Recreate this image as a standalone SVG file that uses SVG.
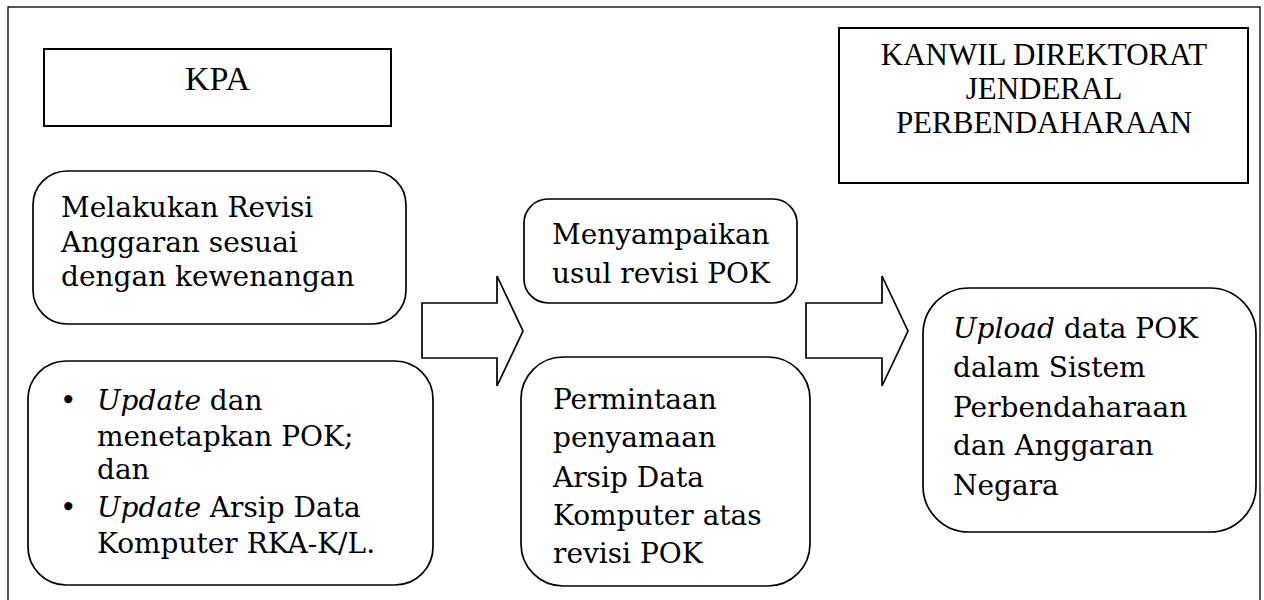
<svg xmlns="http://www.w3.org/2000/svg" width="1264" height="600" viewBox="0 0 1264 600">
  <style>
    .frame { fill: #fff; stroke: #000; stroke-width: 1.3; }
    .box { fill: #fff; stroke: #000; stroke-width: 2; }
    .rbox { fill: #fff; stroke: #000; stroke-width: 1.7; }
    .arrow { fill: #fff; stroke: #000; stroke-width: 1.7; stroke-linejoin: miter; }
    .title { font-family: "Liberation Serif", "Times New Roman", serif; font-size: 31px; fill: #000; text-anchor: middle; }
    .body { font-family: "DejaVu Serif", "Liberation Serif", serif; font-size: 28px; fill: #000; }
    .it { font-style: italic; }
  </style>

  <!-- page frame -->
  <rect class="frame" x="8" y="7" width="1252" height="610"/>

  <!-- connectors: block arrows between columns -->
  <g id="connectors">
    <polygon class="arrow" points="422,303 497,303 497,276 523,331 497,386 497,358 422,358"/>
    <polygon class="arrow" points="806,303 882,303 882,276 908,331 882,386 882,358 806,358"/>
  </g>

  <g id="kpa">
    <rect class="box" x="44" y="49" width="347" height="77"/>
    <text class="title" x="217.5" y="90" style="font-size:34px">KPA</text>
  </g>

  <g id="kanwil">
    <rect class="box" x="839" y="28" width="409" height="155"/>
    <text class="title" x="1044" y="65">KANWIL DIREKTORAT</text>
    <text class="title" x="1044" y="99">JENDERAL</text>
    <text class="title" x="1044" y="133">PERBENDAHARAAN</text>
  </g>

  <g id="revisi-anggaran">
    <rect class="rbox" x="33" y="171" width="373" height="153" rx="34"/>
    <text class="body" x="61" y="217">Melakukan Revisi</text>
    <text class="body" x="61" y="252">Anggaran sesuai</text>
    <text class="body" x="61" y="286">dengan kewenangan</text>
  </g>

  <g id="update-pok">
    <rect class="rbox" x="28" y="361" width="405" height="224" rx="38"/>
    <text class="body" x="60" y="410">•</text>
    <text class="body" x="97" y="410"><tspan class="it">Update</tspan> dan</text>
    <text class="body" x="97" y="446">menetapkan POK;</text>
    <text class="body" x="97" y="479">dan</text>
    <text class="body" x="60" y="517">•</text>
    <text class="body" x="97" y="517"><tspan class="it">Update</tspan> Arsip Data</text>
    <text class="body" x="97" y="553">Komputer RKA-K/L.</text>
  </g>

  <g id="usul-revisi">
    <rect class="rbox" x="524" y="199" width="273" height="104" rx="24"/>
    <text class="body" x="552" y="244">Menyampaikan</text>
    <text class="body" x="552" y="283">usul revisi POK</text>
  </g>

  <g id="penyamaan-adk">
    <rect class="rbox" x="521" y="357" width="289" height="229" rx="42"/>
    <text class="body" x="553" y="409">Permintaan</text>
    <text class="body" x="553" y="447">penyamaan</text>
    <text class="body" x="553" y="487">Arsip Data</text>
    <text class="body" x="553" y="525">Komputer atas</text>
    <text class="body" x="553" y="563">revisi POK</text>
  </g>

  <g id="upload-span">
    <rect class="rbox" x="923" y="288" width="333" height="244" rx="46"/>
    <text class="body" x="953" y="338"><tspan class="it">Upload</tspan> data POK</text>
    <text class="body" x="953" y="377">dalam Sistem</text>
    <text class="body" x="953" y="417">Perbendaharaan</text>
    <text class="body" x="953" y="455">dan Anggaran</text>
    <text class="body" x="953" y="495">Negara</text>
  </g>
</svg>
